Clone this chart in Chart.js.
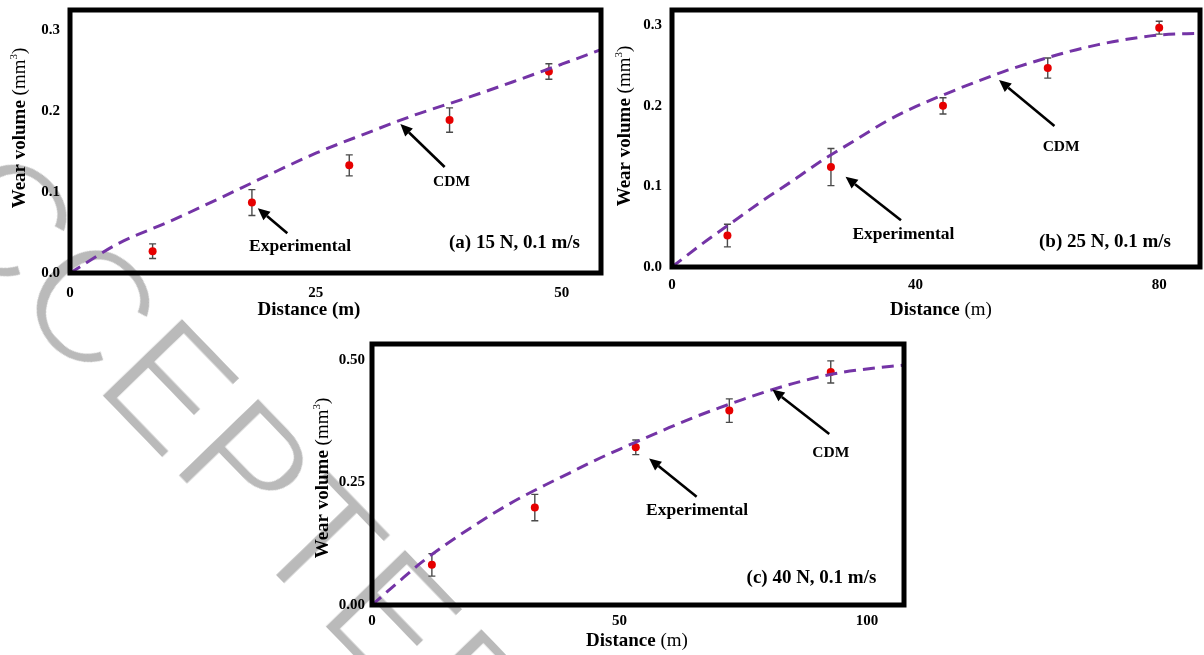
<!DOCTYPE html>
<html>
<head>
<meta charset="utf-8">
<title>Wear volume vs distance</title>
<script src="https://cdn.jsdelivr.net/npm/chart.js@4.4.0/dist/chart.umd.min.js"></script>
<style>
  html, body { margin: 0; padding: 0; background: #fff; }
  body { width: 1204px; height: 655px; position: relative; overflow: hidden; }
  .wm {
    position: absolute; left: -152px; top: -4px;
    font-family: 'Liberation Sans', Arial, sans-serif; font-size: 165px; line-height: 1;
    color: #bababa; white-space: nowrap;
    transform-origin: 0 140px; transform: rotate(46deg);
    filter: url(#thin);
  }
  canvas { position: absolute; }
</style>
</head>
<body>
<svg width="0" height="0" style="position:absolute">
  <filter id="thin"><feMorphology operator="erode" radius="2"/></filter>
</svg>
<div class="wm">ACCEPTED MANUSCRIPT</div>
<canvas id="chartA" width="620" height="330" style="left:0;top:0"></canvas>
<canvas id="chartB" width="604" height="330" style="left:600px;top:0"></canvas>
<canvas id="chartC" width="640" height="325" style="left:290px;top:330px"></canvas>
<script>
// (a) 15 N, 0.1 m/s
const distA = [8.4, 18.5, 28.4, 38.6, 48.7];
const wearA = [0.027, 0.087, 0.133, 0.189, 0.249];
const errA = [0.009, 0.016, 0.013, 0.015, 0.0095];
const cdmDistA = [0, 5, 10, 15, 20, 25, 30, 35, 40, 45, 50, 54];
const cdmWearA = [0, 0.037, 0.063, 0.091, 0.120, 0.148, 0.172, 0.195, 0.215, 0.236, 0.258, 0.276];
const xTicksA = [0, 25, 50];
const yTicksA = [0, 0.1, 0.2, 0.3];

// (b) 25 N, 0.1 m/s
const distB = [9.1, 26.1, 44.5, 61.7, 80.0];
const wearB = [0.039, 0.124, 0.200, 0.247, 0.297];
const errB = [0.014, 0.023, 0.010, 0.0125, 0.008];
const cdmDistB = [0, 5, 10, 15, 20, 25, 30, 35, 40, 45, 50, 55, 60, 65, 70, 75, 80, 86.7];
const cdmWearB = [0, 0.029, 0.056, 0.083, 0.108, 0.134, 0.157, 0.180, 0.199, 0.215, 0.230, 0.244, 0.256, 0.267, 0.276, 0.283, 0.288, 0.290];
const xTicksB = [0, 40, 80];
const yTicksB = [0, 0.1, 0.2, 0.3];

// (c) 40 N, 0.1 m/s
const distC = [12.1, 32.9, 53.3, 72.2, 92.7];
const wearC = [0.082, 0.199, 0.322, 0.397, 0.476];
const errC = [0.023, 0.027, 0.015, 0.024, 0.0225];
const cdmDistC = [0, 5, 10, 15, 20, 25, 30, 35, 40, 45, 50, 55, 60, 65, 70, 75, 80, 85, 90, 95, 100, 107.5];
const cdmWearC = [0, 0.044, 0.087, 0.124, 0.158, 0.190, 0.219, 0.245, 0.270, 0.295, 0.318, 0.340, 0.362, 0.383, 0.402, 0.420, 0.437, 0.452, 0.465, 0.475, 0.482, 0.490];
const xTicksC = [0, 50, 100];
const yTicksC = [0, 0.25, 0.5];

const SERIF = "'Liberation Serif', 'Times New Roman', serif";
Chart.defaults.font.family = SERIF;
Chart.defaults.color = '#000';

const pts = (xs, ys) => xs.map((x, i) => ({ x: x, y: ys[i] }));

function drawRich(ctx, parts, cx, cy, vertical) {
  ctx.save();
  ctx.translate(cx, cy);
  if (vertical) ctx.rotate(-Math.PI / 2);
  let total = 0;
  parts.forEach(p => { ctx.font = p.font; p.w = ctx.measureText(p.t).width; total += p.w; });
  let x = -total / 2;
  ctx.textAlign = 'left';
  ctx.textBaseline = 'middle';
  ctx.fillStyle = '#000';
  parts.forEach(p => { ctx.font = p.font; ctx.fillText(p.t, x, p.dy || 0); x += p.w; });
  ctx.restore();
}

function drawArrow(ctx, x1, y1, x2, y2) {
  const ang = Math.atan2(y2 - y1, x2 - x1);
  const head = 12, half = 5.5;
  const bx = x2 - head * Math.cos(ang), by = y2 - head * Math.sin(ang);
  ctx.save();
  ctx.strokeStyle = '#000';
  ctx.fillStyle = '#000';
  ctx.lineWidth = 2.6;
  ctx.beginPath();
  ctx.moveTo(x1, y1);
  ctx.lineTo(bx, by);
  ctx.stroke();
  ctx.beginPath();
  ctx.moveTo(x2, y2);
  ctx.lineTo(bx + half * Math.sin(ang), by - half * Math.cos(ang));
  ctx.lineTo(bx - half * Math.sin(ang), by + half * Math.cos(ang));
  ctx.closePath();
  ctx.fill();
  ctx.restore();
}

// error bars, frame, arrows and notes
const figurePlugin = {
  id: 'figure',
  beforeDatasetsDraw(chart, args, opts) {
    const ctx = chart.ctx, xs = chart.scales.x, ys = chart.scales.y;
    const data = chart.data.datasets[1].data;
    ctx.save();
    ctx.strokeStyle = '#4a4a4a';
    ctx.lineWidth = 1.4;
    data.forEach((p, i) => {
      const e = opts.err[i];
      const px = xs.getPixelForValue(p.x);
      const top = ys.getPixelForValue(p.y + e), bot = ys.getPixelForValue(p.y - e);
      ctx.beginPath();
      ctx.moveTo(px, top); ctx.lineTo(px, bot);
      ctx.moveTo(px - 3.5, top); ctx.lineTo(px + 3.5, top);
      ctx.moveTo(px - 3.5, bot); ctx.lineTo(px + 3.5, bot);
      ctx.stroke();
    });
    ctx.restore();
  },
  afterDraw(chart, args, opts) {
    const ctx = chart.ctx, xs = chart.scales.x, ys = chart.scales.y;
    const a = chart.chartArea;
    const X = v => xs.getPixelForValue(v), Y = v => ys.getPixelForValue(v);
    ctx.save();
    ctx.strokeStyle = '#000';
    ctx.lineWidth = 5;
    ctx.strokeRect(a.left, a.top, a.right - a.left, a.bottom - a.top);
    ctx.restore();
    opts.arrows.forEach(r => drawArrow(ctx, X(r.from[0]), Y(r.from[1]), X(r.to[0]), Y(r.to[1])));
    opts.notes.forEach(n => {
      ctx.save();
      ctx.font = 'bold ' + n.size + 'px ' + SERIF;
      ctx.fillStyle = '#000';
      ctx.textAlign = 'center';
      ctx.textBaseline = 'middle';
      ctx.fillText(n.text, X(n.at[0]), Y(n.at[1]));
      ctx.restore();
    });
    drawRich(ctx, opts.yTitle.parts, opts.yTitle.x, opts.yTitle.y, true);
    drawRich(ctx, opts.xTitle.parts, opts.xTitle.x, opts.xTitle.y, false);
  }
};

const B19 = 'bold 19px ' + SERIF, R19 = '19px ' + SERIF, R11 = '11px ' + SERIF;
const yTitleParts = () => [
  { t: 'Wear volume ', font: B19 },
  { t: '(mm', font: R19 },
  { t: '3', font: R11, dy: -6 },
  { t: ')', font: R19 }
];
const xTitleBold = () => [{ t: 'Distance (m)', font: B19 }];
const xTitleMixed = () => [{ t: 'Distance ', font: B19 }, { t: '(m)', font: R19 }];

function makeChart(id, cfg) {
  new Chart(document.getElementById(id), {
    type: 'scatter',
    data: {
      datasets: [
        {
          label: 'CDM',
          data: pts(cfg.cdmX, cfg.cdmY),
          showLine: true,
          borderColor: '#7434a6',
          borderWidth: 3,
          borderDash: [12, 7],
          pointRadius: 0,
          cubicInterpolationMode: 'monotone',
          fill: false
        },
        {
          label: 'Experimental',
          data: pts(cfg.x, cfg.y),
          pointRadius: 4,
          pointBackgroundColor: '#e60000',
          pointBorderWidth: 0
        }
      ]
    },
    options: {
      responsive: false,
      animation: false,
      layout: { padding: { left: 0, top: cfg.padTop, right: cfg.padRight, bottom: 0 } },
      plugins: {
        legend: { display: false },
        tooltip: { enabled: false },
        figure: {
          err: cfg.err,
          arrows: cfg.arrows,
          notes: cfg.notes,
          yTitle: cfg.yTitle,
          xTitle: cfg.xTitle
        }
      },
      scales: {
        x: {
          type: 'linear', min: 0, max: cfg.xMax,
          grid: { display: false, drawTicks: false },
          border: { display: false },
          afterBuildTicks: s => { s.ticks = cfg.xTicks.map(v => ({ value: v })); },
          afterFit: s => { s.height = cfg.xAxisH; s.paddingLeft = 0; s.paddingRight = 0; },
          ticks: {
            autoSkip: false, maxRotation: 0, padding: cfg.xPad,
            font: { size: 15, weight: 'bold' }, color: '#000',
            callback: v => String(v)
          }
        },
        y: {
          type: 'linear', min: 0, max: cfg.yMax,
          grid: { display: false, drawTicks: false },
          border: { display: false },
          afterBuildTicks: s => { s.ticks = cfg.yTicks.map(v => ({ value: v })); },
          afterFit: s => { s.width = cfg.yAxisW; s.paddingTop = 0; s.paddingBottom = 0; },
          ticks: {
            autoSkip: false, padding: cfg.yPad,
            font: { size: 15, weight: 'bold' }, color: '#000',
            callback: v => v.toFixed(cfg.yDigits)
          }
        }
      }
    },
    plugins: [figurePlugin]
  });
}

makeChart('chartA', {
  x: distA, y: wearA, err: errA, cdmX: cdmDistA, cdmY: cdmWearA,
  xTicks: xTicksA, yTicks: yTicksA, xMax: 54, yMax: 0.325, yDigits: 1,
  yAxisW: 70, xAxisH: 57, padTop: 10, padRight: 19, xPad: 11, yPad: 10,
  arrows: [
    { from: [22.1, 0.049], to: [19.1, 0.080] },
    { from: [38.1, 0.131], to: [33.6, 0.184] }
  ],
  notes: [
    { text: 'Experimental', at: [23.4, 0.033], size: 17.5 },
    { text: 'CDM', at: [38.8, 0.113], size: 15.5 },
    { text: '(a) 15 N, 0.1 m/s', at: [45.2, 0.037], size: 19 }
  ],
  yTitle: { parts: yTitleParts(), x: 20, y: 128 },
  xTitle: { parts: xTitleBold(), x: 309, y: 310 }
});

makeChart('chartB', {
  x: distB, y: wearB, err: errB, cdmX: cdmDistB, cdmY: cdmWearB,
  xTicks: xTicksB, yTicks: yTicksB, xMax: 86.7, yMax: 0.319, yDigits: 1,
  yAxisW: 72, xAxisH: 63, padTop: 10, padRight: 2, xPad: 9, yPad: 10,
  arrows: [
    { from: [37.6, 0.058], to: [28.5, 0.112] },
    { from: [62.8, 0.175], to: [53.7, 0.232] }
  ],
  notes: [
    { text: 'Experimental', at: [38.0, 0.040], size: 17.5 },
    { text: 'CDM', at: [63.9, 0.149], size: 15.5 },
    { text: '(b) 25 N, 0.1 m/s', at: [71.1, 0.031], size: 19 }
  ],
  yTitle: { parts: yTitleParts(), x: 25, y: 126 },
  xTitle: { parts: xTitleMixed(), x: 341, y: 310 }
});

makeChart('chartC', {
  x: distC, y: wearC, err: errC, cdmX: cdmDistC, cdmY: cdmWearC,
  xTicks: xTicksC, yTicks: yTicksC, xMax: 107.5, yMax: 0.533, yDigits: 2,
  yAxisW: 82, xAxisH: 50, padTop: 14, padRight: 26, xPad: 7, yPad: 7,
  arrows: [
    { from: [65.6, 0.221], to: [56.0, 0.299] },
    { from: [92.4, 0.349], to: [80.9, 0.440] }
  ],
  notes: [
    { text: 'Experimental', at: [65.7, 0.194], size: 17.5 },
    { text: 'CDM', at: [92.7, 0.311], size: 15.5 },
    { text: '(c) 40 N, 0.1 m/s', at: [88.8, 0.054], size: 19 }
  ],
  yTitle: { parts: yTitleParts(), x: 33, y: 148 },
  xTitle: { parts: xTitleMixed(), x: 347, y: 311 }
});
</script>
</body>
</html>
